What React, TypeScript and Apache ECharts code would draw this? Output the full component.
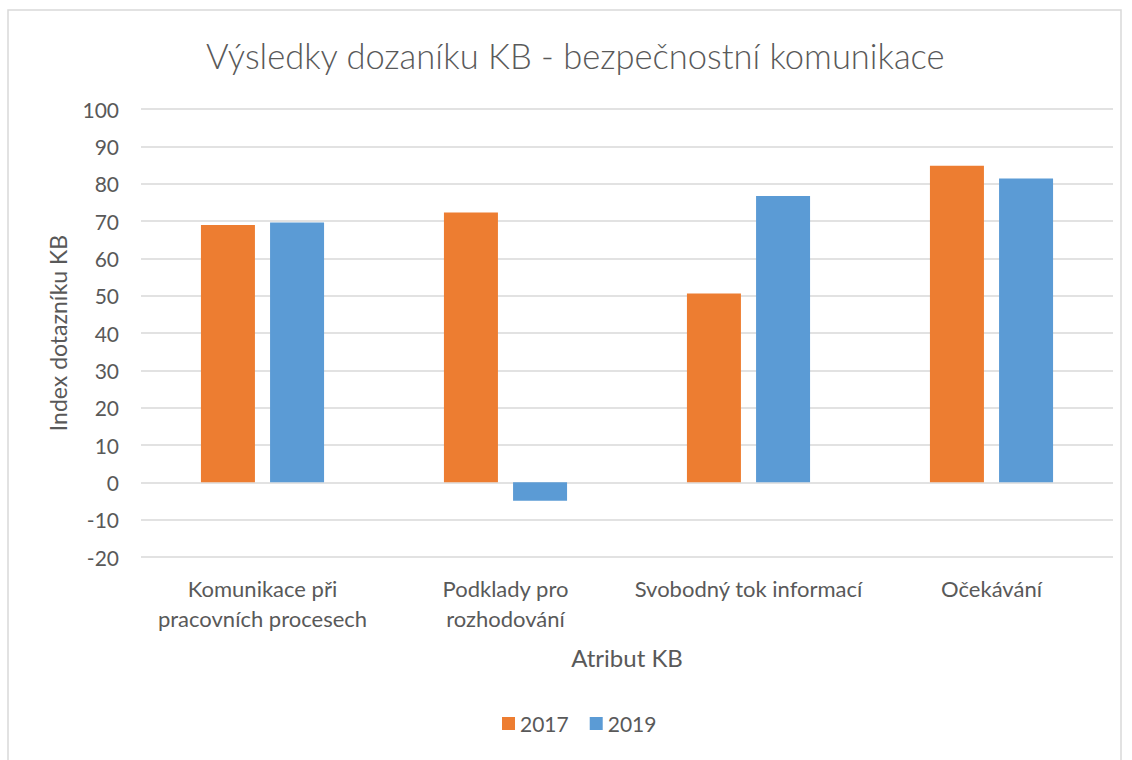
import React, { useEffect, useRef } from "react";
import * as echarts from "echarts";

const categories = [
  "Komunikace při\npracovních procesech",
  "Podklady pro\nrozhodování",
  "Svobodný tok informací",
  "Očekávání",
];
const values2017 = [68.9, 72.3, 50.6, 84.8];
const values2019 = [69.6, -4.9, 76.7, 81.4];
const seriesNames = ["2017", "2019"];

const FONT = "Lato, 'Open Sans', sans-serif";
const TXT = "#595959";

export default function App() {
  const ref = useRef<HTMLDivElement>(null);
  useEffect(() => {
    document.body.style.margin = "0";
    const chart = echarts.init(ref.current!, null, { renderer: "svg" });
    chart.setOption({
      animation: false,
      backgroundColor: "#ffffff",
      textStyle: { fontFamily: FONT, color: TXT },
      graphic: [
        {
          type: "rect",
          shape: { x: 8, y: 10, width: 1113, height: 760 },
          style: { fill: "none", stroke: "#d9d9d9", lineWidth: 1.5 },
          silent: true,
        },
      ],
      title: {
        text: "Výsledky dozaníku KB - bezpečnostní komunikace",
        left: 201,
        top: 33,
        textStyle: { fontFamily: FONT, fontWeight: 300, fontSize: 34.5, color: TXT },
      },
      legend: {
        data: seriesNames,
        bottom: 21,
        left: 497,
        itemWidth: 13,
        itemHeight: 13,
        itemGap: 21,
        icon: "rect",
        textStyle: { fontFamily: FONT, fontSize: 21, color: TXT },
      },
      grid: { left: 141, right: 19, top: 109, bottom: 203 },
      xAxis: {
        type: "category",
        data: categories,
        name: "Atribut KB",
        nameLocation: "middle",
        nameGap: 88,
        nameTextStyle: { fontFamily: FONT, fontSize: 24, color: TXT },
        axisLine: { show: false },
        axisTick: { show: false },
        axisLabel: {
          interval: 0,
          margin: 16,
          fontFamily: FONT,
          fontSize: 22,
          lineHeight: 30,
          color: TXT,
        },
      },
      yAxis: {
        type: "value",
        min: -20,
        max: 100,
        interval: 10,
        name: "Index dotazníku KB",
        nameLocation: "middle",
        nameGap: 72,
        nameTextStyle: { fontFamily: FONT, fontSize: 23, color: TXT },
        axisLine: { show: false },
        axisTick: { show: false },
        axisLabel: { fontFamily: FONT, fontSize: 21, color: TXT, margin: 22 },
        splitLine: { lineStyle: { color: "#d9d9d9", width: 1.5 } },
      },
      series: [
        {
          name: seriesNames[0],
          type: "bar",
          data: values2017,
          barWidth: 54,
          barGap: "28%",
          itemStyle: { color: "#ED7D31" },
        },
        {
          name: seriesNames[1],
          type: "bar",
          data: values2019,
          barWidth: 54,
          barGap: "28%",
          itemStyle: { color: "#5B9BD5" },
        },
      ],
    });
    return () => chart.dispose();
  }, []);
  return <div ref={ref} style={{ width: 1132, height: 760 }} />;
}
